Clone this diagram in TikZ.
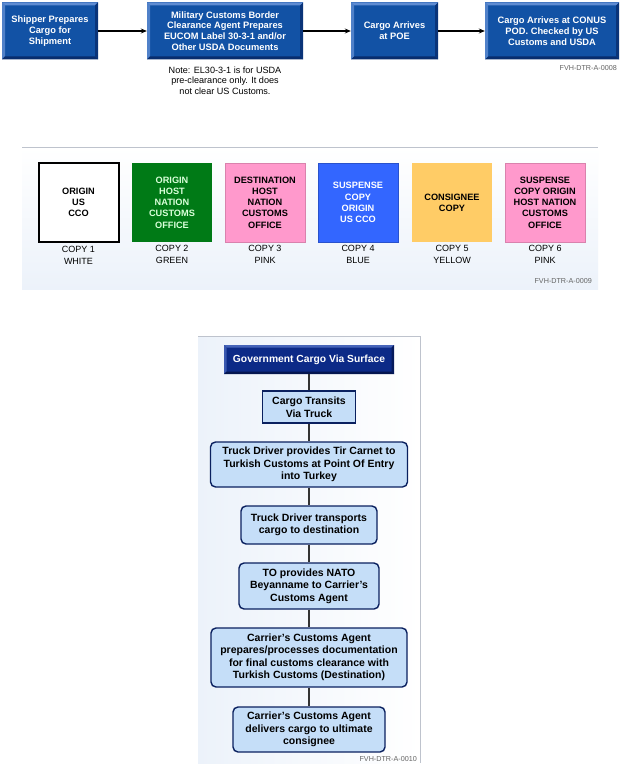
\documentclass[tikz,border=0pt]{standalone}
\usepackage{fontspec}
\setmainfont{Liberation Sans}
\usetikzlibrary{arrows.meta}
\definecolor{topblue}{RGB}{18,82,165}
\definecolor{toplight}{RGB}{95,140,210}
\definecolor{topdark}{RGB}{8,45,110}
\definecolor{navy}{RGB}{12,42,135}
\definecolor{navylight}{RGB}{70,100,185}
\definecolor{navydark}{RGB}{5,22,80}
\definecolor{lightbox}{RGB}{197,222,248}
\definecolor{boxedge}{RGB}{10,32,95}
\definecolor{cgreen}{RGB}{0,122,22}
\definecolor{cpink}{RGB}{255,153,204}
\definecolor{cblue}{RGB}{51,102,255}
\definecolor{cyellow}{RGB}{255,204,102}
\definecolor{panelbg}{RGB}{236,242,250}
\definecolor{panelline}{RGB}{190,195,205}
\definecolor{labelgray}{RGB}{100,100,100}
\tikzset{
  bevelbox/.style={fill=#1, text=white, font=\fontsize{9.3}{10.7}\selectfont\bfseries, align=center, inner sep=0pt},
  bevtop/.style={
    path picture={
      \fill[toplight] (path picture bounding box.north west) -- (path picture bounding box.north east) -- ([xshift=-3pt,yshift=-3pt]path picture bounding box.north east) -- ([xshift=3pt,yshift=-3pt]path picture bounding box.north west) -- cycle;
      \fill[toplight!80!topblue] (path picture bounding box.north west) -- ([xshift=3pt,yshift=-3pt]path picture bounding box.north west) -- ([xshift=3pt,yshift=3pt]path picture bounding box.south west) -- (path picture bounding box.south west) -- cycle;
      \fill[topdark] (path picture bounding box.south west) -- (path picture bounding box.south east) -- ([xshift=-3pt,yshift=3pt]path picture bounding box.south east) -- ([xshift=3pt,yshift=3pt]path picture bounding box.south west) -- cycle;
      \fill[topdark!80!topblue] (path picture bounding box.north east) -- ([xshift=-3pt,yshift=-3pt]path picture bounding box.north east) -- ([xshift=-3pt,yshift=3pt]path picture bounding box.south east) -- (path picture bounding box.south east) -- cycle;
    }},
  bevnavy/.style={
    path picture={
      \fill[navylight] (path picture bounding box.north west) -- (path picture bounding box.north east) -- ([xshift=-2.5pt,yshift=-2.5pt]path picture bounding box.north east) -- ([xshift=2.5pt,yshift=-2.5pt]path picture bounding box.north west) -- cycle;
      \fill[navylight!80!navy] (path picture bounding box.north west) -- ([xshift=2.5pt,yshift=-2.5pt]path picture bounding box.north west) -- ([xshift=2.5pt,yshift=2.5pt]path picture bounding box.south west) -- (path picture bounding box.south west) -- cycle;
      \fill[navydark] (path picture bounding box.south west) -- (path picture bounding box.south east) -- ([xshift=-2.5pt,yshift=2.5pt]path picture bounding box.south east) -- ([xshift=2.5pt,yshift=2.5pt]path picture bounding box.south west) -- cycle;
      \fill[navydark!80!navy] (path picture bounding box.north east) -- ([xshift=-2.5pt,yshift=-2.5pt]path picture bounding box.north east) -- ([xshift=-2.5pt,yshift=2.5pt]path picture bounding box.south east) -- (path picture bounding box.south east) -- cycle;
    }},
  flowarrow/.style={-{Stealth[length=6pt,width=5pt]}, line width=1.3pt, black},
  copybox/.style={minimum width=80pt, minimum height=79pt, inner sep=0pt, align=center, font=\fontsize{9.2}{11.2}\selectfont\bfseries},
  copylabel/.style={align=center, font=\fontsize{9}{11.7}\selectfont, inner sep=0pt},
  fvh/.style={font=\fontsize{7.2}{8}\selectfont, text=labelgray, inner sep=0pt},
  stepbox/.style={fill=lightbox, draw=boxedge, line width=1.4pt, align=center, inner sep=0pt, font=\fontsize{10.5}{12.5}\selectfont\bfseries},
  rstep/.style={stepbox, rounded corners=5pt},
  vline/.style={line width=1.2pt, draw=black!80},
}
\begin{document}
\begin{tikzpicture}[x=1pt,y=-1pt]
\useasboundingbox[fill=white] (0,0) rectangle (624,767);
% ---------- top row ----------
\node[bevelbox=topblue, bevtop, minimum width=96pt, minimum height=57pt] (b1) at (50,31) {Shipper Prepares\\Cargo for\\Shipment};
\node[bevelbox=topblue, bevtop, minimum width=156pt, minimum height=57pt] (b2) at (225,31) {Military Customs Border\\Clearance Agent Prepares\\EUCOM Label 30-3-1 and/or\\Other USDA Documents};
\node[bevelbox=topblue, bevtop, minimum width=87pt, minimum height=57pt] (b3) at (394.5,31) {Cargo Arrives\\at POE};
\node[bevelbox=topblue, bevtop, minimum width=134pt, minimum height=57pt] (b4) at (552,31) {Cargo Arrives at CONUS\\POD. Checked by US\\Customs and USDA};
\draw[flowarrow] (b1.east) -- (b2.west);
\draw[flowarrow] (b2.east) -- (b3.west);
\draw[flowarrow] (b3.east) -- (b4.west);
\node[align=center, inner sep=0pt, font=\fontsize{9.1}{10.6}\selectfont] (note) at (225,80.5) {Note: EL30-3-1 is for USDA\\pre-clearance only. It does\\not clear US Customs.};
\node[fvh, anchor=east] (fvh1) at (617,68) {FVH-DTR-A-0008};
% ---------- middle panel ----------
\shade[top color=white, bottom color=panelbg] (22,147) rectangle (598,289);
\draw[panelline, line width=0.8pt] (22,147) -- (598,147);
\node[copybox, fill=white, draw=black, line width=2pt] (c1) at (78.5,202.5) {ORIGIN\\US\\CCO};
\node[copybox, fill=cgreen, text=white!85!green] (c2) at (172,202.5) {ORIGIN\\HOST\\NATION\\CUSTOMS\\OFFICE};
\node[copybox, fill=cpink, draw=cpink!85!black, line width=0.6pt] (c3) at (265,202.5) {DESTINATION\\HOST\\NATION\\CUSTOMS\\OFFICE};
\node[copybox, fill=cblue, text=white, draw=cblue!80!black, line width=0.6pt] (c4) at (358,202.5) {SUSPENSE\\COPY\\ORIGIN\\US CCO};
\node[copybox, fill=cyellow] (c5) at (452,202.5) {CONSIGNEE\\COPY};
\node[copybox, fill=cpink, draw=cpink!85!black, line width=0.6pt] (c6) at (545,202.5) {SUSPENSE\\COPY ORIGIN\\HOST NATION\\CUSTOMS\\OFFICE};
\node[copylabel, anchor=north] (l1) at ([yshift=-3pt]c1.south) {COPY 1\\WHITE};
\node[copylabel, anchor=north] (l2) at ([yshift=-3pt]c2.south) {COPY 2\\GREEN};
\node[copylabel, anchor=north] (l3) at ([yshift=-3pt]c3.south) {COPY 3\\PINK};
\node[copylabel, anchor=north] (l4) at ([yshift=-3pt]c4.south) {COPY 4\\BLUE};
\node[copylabel, anchor=north] (l5) at ([yshift=-3pt]c5.south) {COPY 5\\YELLOW};
\node[copylabel, anchor=north] (l6) at ([yshift=-3pt]c6.south) {COPY 6\\PINK};
\node[fvh, anchor=east] (fvh2) at (592,281) {FVH-DTR-A-0009};
% ---------- bottom panel ----------
\shade[left color=panelbg, right color=white] (198,336) rectangle (420,763);
\draw[panelline, line width=0.8pt] (198,336) -- (420,336) -- (420,763);
\node[bevelbox=navy, bevnavy, minimum width=170pt, minimum height=29pt, font=\fontsize{10.3}{12}\selectfont\bfseries] (g0) at (309,359.5) {Government Cargo Via Surface};
\node[stepbox, minimum width=93pt, minimum height=32pt] (g1) at (309,407) {Cargo Transits\\Via Truck};
\node[rstep, minimum width=197pt, minimum height=45pt] (g2) at (309,464.5) {Truck Driver provides Tir Carnet to\\Turkish Customs at Point Of Entry\\into Turkey};
\node[rstep, minimum width=136pt, minimum height=38pt] (g3) at (309,525) {Truck Driver transports\\cargo to destination};
\node[rstep, minimum width=140pt, minimum height=46pt] (g4) at (309,586) {TO provides NATO\\Beyanname to Carrier's\\Customs Agent};
\node[rstep, minimum width=196pt, minimum height=59pt] (g5) at (309,657.5) {Carrier's Customs Agent\\prepares/processes documentation\\for final customs clearance with\\Turkish Customs (Destination)};
\node[rstep, minimum width=152pt, minimum height=45pt] (g6) at (309,729.5) {Carrier's Customs Agent\\delivers cargo to ultimate\\consignee};
\draw[vline] (g0.south) -- (g1.north);
\draw[vline] (g1.south) -- (g2.north);
\draw[vline] (g2.south) -- (g3.north);
\draw[vline] (g3.south) -- (g4.north);
\draw[vline] (g4.south) -- (g5.north);
\draw[vline] (g5.south) -- (g6.north);
\node[fvh, anchor=east] (fvh3) at (417,759) {FVH-DTR-A-0010};
\end{tikzpicture}
\end{document}
